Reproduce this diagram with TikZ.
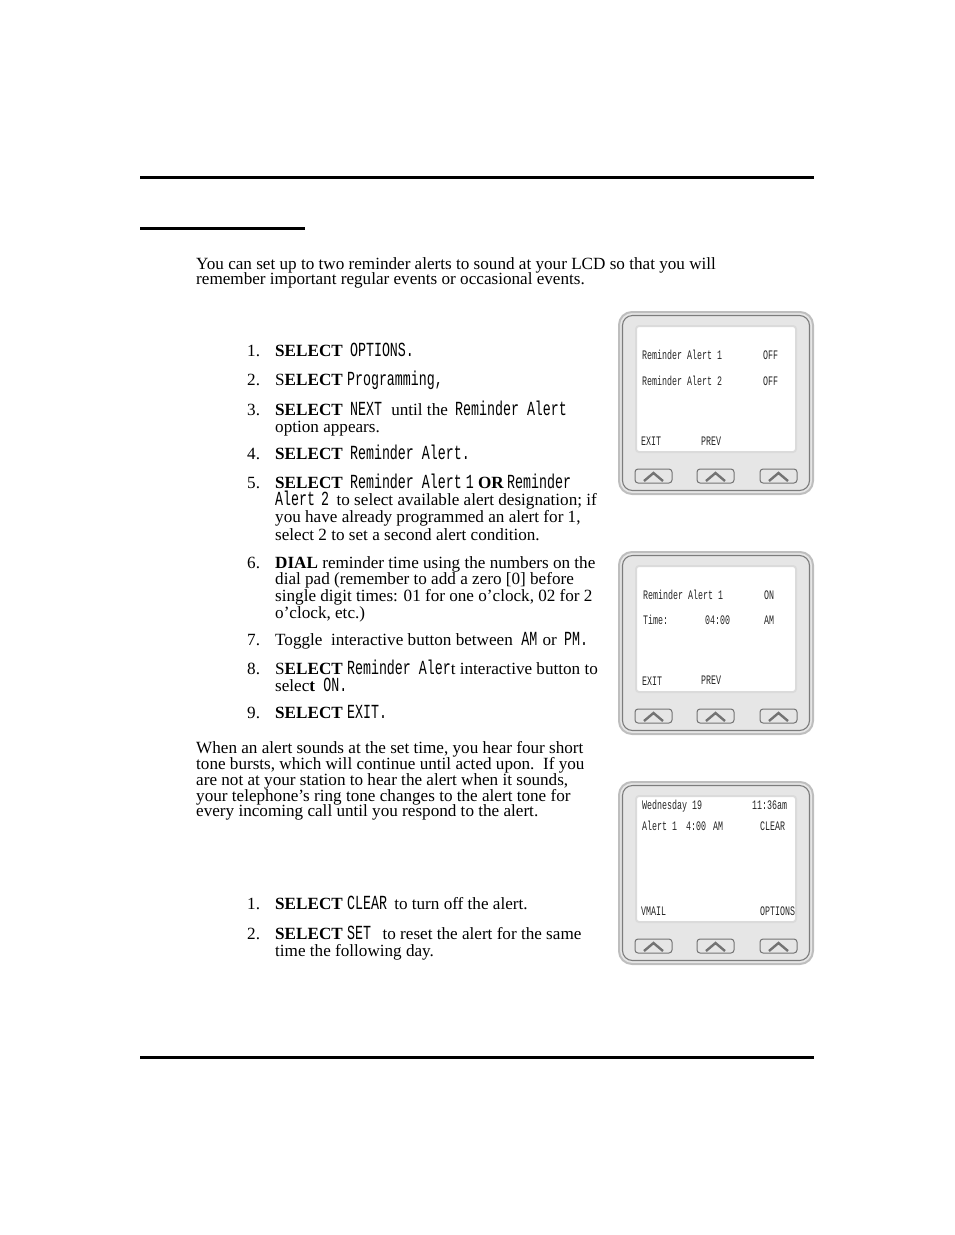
\documentclass[tikz,border=0pt]{standalone}
\usepackage{fontspec}
\setmainfont{Liberation Serif}
\newfontfamily\lcdfamily[FakeStretch=0.665]{Liberation Mono}
\newfontfamily\lcdsmall[FakeStretch=0.64]{Liberation Mono}
\newcommand{\lcd}[1]{{\lcdfamily\fontsize{20}{17}\selectfont #1}}
\newcommand{\sel}{\textbf{SELECT}}
\definecolor{casegray}{HTML}{BEBEBE}
\definecolor{casefill}{HTML}{E6E6E6}
\definecolor{rimgray}{HTML}{7C7C7C}
\begin{document}
\begin{tikzpicture}[
  x=1pt, y=-1pt,
  body/.style={anchor=base west, inner sep=0pt, font=\fontsize{17.13}{17}\selectfont},
  screen/.style={anchor=base west, inner sep=0pt, font=\lcdsmall\fontsize{13}{13}\selectfont, text=black!85},
  rulebar/.style={line width=3pt, black},
  phone/.pic={
    \draw[casegray, fill=casefill, line width=2pt, rounded corners=13pt] (1,1) rectangle (195,183);
    \draw[rimgray, line width=1.1pt, rounded corners=10pt] (4.5,4.5) rectangle (191.5,179.5);
    \draw[black!14, fill=white, line width=2pt, rounded corners=3pt] (18,15) rectangle (178,141);
    \foreach \bx in {17,79,142} {
      \draw[black!55, fill=casefill, line width=1pt, rounded corners=3pt] (\bx,158) rectangle ++(37,14);
      \draw[black!55, line width=2.4pt] ([xshift=9pt]\bx,170) -- ([xshift=18.5pt]\bx,162) -- ([xshift=28pt]\bx,170);
    }
  }
]
\useasboundingbox (0,0) rectangle (954,1235);

% Rules
\coordinate (topL) at (140,177);
\coordinate (topR) at (814,177);
\coordinate (headL) at (140,228);
\coordinate (headR) at (305,228);
\coordinate (botL) at (140,1057);
\coordinate (botR) at (814,1057);
\draw[rulebar] (topL) -- (topR);
\draw[rulebar] (headL) -- (headR);
\draw[rulebar] (botL) -- (botR);

% Intro
\node[body] (introA) at (196,269) {You can set up to two reminder alerts to sound at your LCD so that you will};
\node[body] (introB) at (196,284) {remember important regular events or occasional events.};

% Steps
\node[body] (numA) at (247,356) {1.};
\node[body] (stepA) at (275,356) {\sel\ \kern3pt\lcd{OPTIONS.}};
\node[body] (numB) at (247,385) {2.};
\node[body] (stepB) at (275,385) {S\textbf{ELECT} \lcd{Programming,}};
\node[body] (numC) at (247,415) {3.};
\node[body] (stepC) at (275,415) {\sel\ \kern3pt\lcd{NEXT}\kern5pt\ until the\kern3pt\ \lcd{Reminder Alert}};
\node[body] (stepCb) at (275,432) {option appears.};
\node[body] (numD) at (247,459) {4.};
\node[body] (stepD) at (275,459) {\sel\ \kern3pt\lcd{Reminder Alert.}};
\node[body] (numE) at (247,488) {5.};
\node[body] (stepE) at (275,488) {\sel\ \kern3pt\lcd{Reminder Alert\kern-4pt{} 1}\ \textbf{OR}\kern-1pt\ \lcd{Reminder}};
\node[body] (stepEb) at (275,505) {\lcd{Alert\kern-2pt{} 2}\kern-1pt\ \ to select available alert designation; if};
\node[body] (stepEc) at (275,522) {you have already programmed an alert for 1,};
\node[body] (stepEd) at (275,540) {select 2 to set a second alert condition.};
\node[body] (numF) at (247,568) {6.};
\node[body] (stepF) at (275,568) {\textbf{DIAL} reminder time using the numbers on the};
\node[body] (stepFb) at (275,584) {dial pad (remember to add a zero [0] before};
\node[body] (stepFc) at (275,601) {single digit times: 01 for one o’clock, 02 for 2};
\node[body] (stepFd) at (275,618) {o’clock, etc.)};
\node[body] (numG) at (247,645) {7.};
\node[body] (stepG) at (275,645) {Toggle\ \ interactive button between \ \lcd{AM}\kern1pt\ or\kern3pt\ \lcd{PM.}};
\node[body] (numH) at (247,674) {8.};
\node[body] (stepH) at (275,674) {S\textbf{ELECT} \lcd{Reminder Aler}t interactive button to};
\node[body] (stepHb) at (275,691) {selec\textbf{t}\kern4pt\ \lcd{ON.}};
\node[body] (numI) at (247,718) {9.};
\node[body] (stepI) at (275,718) {\sel\ \lcd{EXIT.}};

% Alert paragraph
\node[body] (paraA) at (196,753) {When an alert sounds at the set time, you hear four short};
\node[body] (paraB) at (196,769) {tone bursts, which will continue until acted upon.\ \ If you};
\node[body] (paraC) at (196,785) {are not at your station to hear the alert when it sounds,};
\node[body] (paraD) at (196,801) {your telephone’s ring tone changes to the alert tone for};
\node[body] (paraE) at (196,816) {every incoming call until you respond to the alert.};

% Clearing
\node[body] (numJ) at (247,909) {1.};
\node[body] (stepJ) at (275,909) {\sel\ \lcd{CLEAR}\kern3pt\ to turn off the alert.};
\node[body] (numK) at (247,939) {2.};
\node[body] (stepK) at (275,939) {\sel\ \lcd{SET}\kern3pt\ \ to reset the alert for the same};
\node[body] (stepKb) at (275,956) {time the following day.};

% Phones
\pic at (618,311) {phone};
\pic at (618,551) {phone};
\pic at (618,781) {phone};

% Screen one
\node[screen] (oneA) at (642,359) {Reminder Alert 1};
\node[screen] (oneAv) at (763,359) {OFF};
\node[screen] (oneB) at (642,385) {Reminder Alert 2};
\node[screen] (oneBv) at (763,385) {OFF};
\node[screen] (oneExit) at (641,445) {EXIT};
\node[screen] (onePrev) at (701,445) {PREV};

% Screen two
\node[screen] (twoA) at (643,599) {Reminder Alert 1};
\node[screen] (twoAv) at (764,599) {ON};
\node[screen] (twoB) at (643,624) {Time:};
\node[screen] (twoBt) at (705,624) {04:00};
\node[screen] (twoBv) at (764,624) {AM};
\node[screen] (twoExit) at (642,685) {EXIT};
\node[screen] (twoPrev) at (701,684) {PREV};

% Screen three
\node[screen] (threeA) at (642,809) {Wednesday 19};
\node[screen] (threeAt) at (752,809) {11:36am};
\node[screen] (threeB) at (642,830) {Alert 1};
\node[screen] (threeBt) at (686,830) {4:00};
\node[screen] (threeBm) at (713,830) {AM};
\node[screen] (threeBc) at (760,830) {CLEAR};
\node[screen] (threeMail) at (641,915) {VMAIL};
\node[screen] (threeOpt) at (760,915) {OPTIONS};

\end{tikzpicture}
\end{document}
